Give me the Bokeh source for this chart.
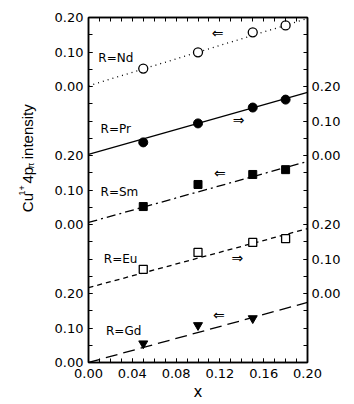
from bokeh.plotting import figure
from bokeh.layouts import row
from bokeh.models import Range1d, LinearAxis, FixedTicker, ColumnDataSource
from bokeh.core.properties import value
from bokeh.embed import file_html
from bokeh.resources import INLINE

# ---------------- data ----------------
x_points = [0.05, 0.10, 0.15, 0.18]
gd_x = [0.05, 0.10, 0.15]

nd_vals = [0.052, 0.099, 0.157, 0.177]
pr_vals = [0.038, 0.093, 0.139, 0.162]
sm_vals = [0.052, 0.116, 0.145, 0.159]
eu_vals = [0.070, 0.119, 0.148, 0.159]
gd_vals = [0.055, 0.108, 0.128]

fit_x = [0.0, 0.20]
nd_fit = [0.002, 0.197]
pr_fit = [0.003, 0.183]
sm_fit = [0.006, 0.183]
eu_fit = [0.017, 0.188]
gd_fit = [0.000, 0.174]

series_names = ["R=Nd", "R=Pr", "R=Sm", "R=Eu", "R=Gd"]
series_offsets = [0.8, 0.6, 0.4, 0.2, 0.0]   # vertical stacking of the panels
arrow_text = ["\u21d0", "\u21d2", "\u21d0", "\u21d2", "\u21d0"]

label_x = [0.009, 0.011, 0.011, 0.014, 0.016]
label_y = [0.084, 0.078, 0.093, 0.099, 0.090]
arrow_x = [0.118, 0.137, 0.120, 0.136, 0.119]
arrow_y = [0.154, 0.104, 0.148, 0.104, 0.139]

x_major = [0.00, 0.04, 0.08, 0.12, 0.16, 0.20]
x_major_labels = ["0.00", "0.04", "0.08", "0.12", "0.16", "0.20"]
x_minor = [i / 100 for i in range(0, 21)]

left_vals = [0.0, 0.1, 0.2, 0.4, 0.5, 0.6, 0.8, 0.9, 1.0]
left_labels = ["0.00", "0.10", "0.20", "0.00", "0.10", "0.20", "0.00", "0.10", "0.20"]
right_vals = [0.2, 0.3, 0.4, 0.6, 0.7, 0.8]
right_labels = ["0.00", "0.10", "0.20", "0.00", "0.10", "0.20"]
y_minor = [i / 20 for i in range(0, 21)]

y_title_pieces = ["Cu", "1+", "4p", "\u03c0", "intensity"]
x_title = "x"

# ---------------- main figure ----------------
LEFT_W = 40
p = figure(width=354 - LEFT_W, height=404, x_range=Range1d(0, 0.2), y_range=Range1d(0, 1.0),
           output_backend="svg", toolbar_location=None,
           x_axis_type=None, y_axis_type=None,
           min_border_left=88 - LEFT_W, min_border_right=47, min_border_top=17, min_border_bottom=42)
p.grid.visible = False
p.outline_line_color = "black"
p.outline_line_width = 1.5
p.background_fill_color = "white"
p.border_fill_color = "white"

TICK_FONT = "DejaVu Sans"


def style(ax):
    ax.axis_line_color = "black"
    ax.axis_line_width = 1.5
    ax.major_tick_in = 4
    ax.major_tick_out = 0
    ax.minor_tick_in = 4
    ax.minor_tick_out = 0
    ax.major_tick_line_color = "black"
    ax.minor_tick_line_color = "black"
    ax.major_label_text_font = TICK_FONT
    ax.major_label_text_font_size = "13px"
    ax.major_label_text_color = "black"
    ax.major_label_standoff = 5


xb = LinearAxis(ticker=FixedTicker(ticks=x_major, minor_ticks=x_minor),
                major_label_overrides=dict(zip(x_major, x_major_labels)),
                axis_label=x_title)
style(xb)
xb.major_label_standoff = 6
xb.axis_label_standoff = 2
xb.axis_label_text_font = "DejaVu Sans"
xb.axis_label_text_font_size = "15px"
xb.axis_label_text_font_style = "normal"
xb.axis_label_text_color = "black"
p.add_layout(xb, "below")

xt = LinearAxis(ticker=FixedTicker(ticks=[], minor_ticks=x_minor))
style(xt)
p.add_layout(xt, "above")

yl = LinearAxis(ticker=FixedTicker(ticks=left_vals, minor_ticks=y_minor),
                major_label_overrides=dict(zip(left_vals, left_labels)))
style(yl)
p.add_layout(yl, "left")

yr = LinearAxis(ticker=FixedTicker(ticks=right_vals, minor_ticks=y_minor),
                major_label_overrides=dict(zip(right_vals, right_labels)))
style(yr)
yr.major_label_standoff = 4
p.add_layout(yr, "right")

# ---------------- series ----------------
fits = [nd_fit, pr_fit, sm_fit, eu_fit, gd_fit]
dashes = ["1 4", "solid", "9 4 2 4", "5 4", "12 6"]
for fit, off, dash in zip(fits, series_offsets, dashes):
    p.line(fit_x, [v + off for v in fit], line_color="black", line_width=1.3, line_dash=dash)


def shifted(vals, off):
    return [v + off for v in vals]


p.scatter(x_points, shifted(nd_vals, series_offsets[0]), marker="circle", size=9,
          fill_color="white", line_color="black", line_width=1.3)
p.scatter(x_points, shifted(pr_vals, series_offsets[1]), marker="circle", size=9,
          fill_color="black", line_color="black")
p.scatter(x_points, shifted(sm_vals, series_offsets[2]), marker="square", size=8,
          fill_color="black", line_color="black")
p.scatter(x_points, shifted(eu_vals, series_offsets[3]), marker="square", size=8,
          fill_color="white", line_color="black", line_width=1.3)
p.scatter(gd_x, shifted(gd_vals, series_offsets[4]), marker="inverted_triangle", size=9,
          fill_color="black", line_color="black")

lab_src = ColumnDataSource(dict(x=label_x, y=[a + b for a, b in zip(label_y, series_offsets)],
                                text=series_names))
p.text(x="x", y="y", text="text", source=lab_src, text_font=value("DejaVu Sans"),
       text_font_size="12px", text_baseline="middle", text_align="left", text_color="black")

arr_src = ColumnDataSource(dict(x=arrow_x, y=[a + b for a, b in zip(arrow_y, series_offsets)],
                                text=arrow_text))
p.text(x="x", y="y", text="text", source=arr_src, text_font=value("DejaVu Sans"),
       text_font_size="14px", text_baseline="middle", text_align="center", text_color="black")

# ---------------- y title strip (rotated, with super/subscripts) ----------------
lf = figure(width=LEFT_W, height=404, x_range=Range1d(0, LEFT_W), y_range=Range1d(0, 404),
            output_backend="svg", toolbar_location=None, x_axis_type=None, y_axis_type=None,
            min_border=0)
lf.grid.visible = False
lf.outline_line_color = None
lf.border_fill_color = "white"
lf.background_fill_color = "white"

sizes = ["15px", "9px", "15px", "9px", "15px"]
shifts = [0, -6, 0, 3, 0]
advance = [19.5, 14.0, 17.5, 11.0, 59.0]   # piece width plus following space
base_x = 27
pos = 176.0
px, py = [], []
for s, w in zip(shifts, advance):
    px.append(base_x + s)
    py.append(pos)
    pos += w
for i in range(len(y_title_pieces)):
    lf.text(x=[px[i]], y=[py[i]], text=[y_title_pieces[i]], angle=90, angle_units="deg",
            text_font=value("Liberation Sans"), text_font_size=sizes[i],
            text_align="left", text_baseline="alphabetic", text_color="black")

layout = row(lf, p)
open("out.html", "w").write(file_html(layout, INLINE))
